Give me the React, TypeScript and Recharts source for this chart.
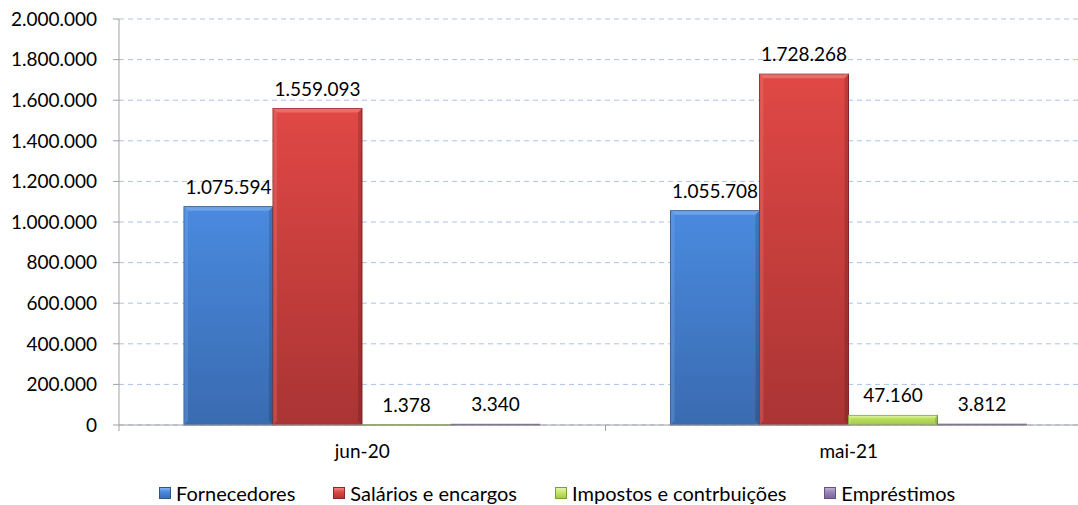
import React from 'react';
import { BarChart, Bar, XAxis, YAxis, CartesianGrid, LabelList } from 'recharts';

const categories = ['jun-20', 'mai-21'];
const fornecedores = [1075594, 1055708];
const salarios = [1559093, 1728268];
const impostos = [1378, 47160];
const emprestimos = [3340, 3812];
const yTicks = [0, 200000, 400000, 600000, 800000, 1000000, 1200000, 1400000, 1600000, 1800000, 2000000];
const seriesNames = ['Fornecedores', 'Salários e encargos', 'Impostos e contrbuições', 'Empréstimos'];

const data = categories.map((c, i) => ({
  cat: c,
  f: fornecedores[i],
  s: salarios[i],
  im: impostos[i],
  e: emprestimos[i],
}));

const FONT = 'Lato, "Open Sans", sans-serif';
const FS = 19;
const CHART_W = 1100;
const CHART_H = 505;
const MARGIN = { top: 19, right: 8, left: 0, bottom: 0 };
const Y_W = 119;
const X_H = 80;
const PLOT_W = CHART_W - MARGIN.left - MARGIN.right - Y_W;
const BAND = PLOT_W / categories.length;

const palette = [
  { id: 'gBlue', top: '#4a8adf', bottom: '#396bb0', stroke: '#2e5790', light: '#8ab8f2', key: 'f' },
  { id: 'gRed', top: '#e04845', bottom: '#aa3434', stroke: '#8c2a2a', light: '#f48c88', key: 's' },
  { id: 'gGreen', top: '#c8ea6c', bottom: '#a0c843', stroke: '#7e9e30', light: '#e6f7b0', key: 'im' },
  { id: 'gPurple', top: '#9b86ba', bottom: '#7a6498', stroke: '#67537f', light: '#c2b2d8', key: 'e' },
];

const fmt = (v: number) => String(Math.round(v)).replace(/\B(?=(\d{3})+(?!\d))/g, '.');

const makeShape = (p: typeof palette[number]) => (props: any) => {
  const { x, y, width, height } = props;
  if (width == null || height == null) return null;
  const h = Math.max(height, 0);
  const w = width;
  const s = Math.max(0, Math.min(4, h / 4, w / 4));
  return (
    <g>
      <rect x={x} y={y} width={w} height={Math.max(h, 0.5)} fill={`url(#${p.id})`} stroke={p.stroke} strokeWidth={1} />
      {s > 0.5 && (
        <>
          <polygon points={`${x},${y} ${x + w},${y} ${x + w - s},${y + s} ${x + s},${y + s}`} fill={p.light} opacity={0.55} />
          <polygon points={`${x},${y} ${x + s},${y + s} ${x + s},${y + h - s} ${x},${y + h}`} fill={p.light} opacity={0.25} />
          <polygon points={`${x + w},${y} ${x + w - s},${y + s} ${x + w - s},${y + h - s} ${x + w},${y + h}`} fill="#000" opacity={0.15} />
        </>
      )}
    </g>
  );
};

const XTick = (props: any) => {
  const { x, y, payload, index } = props;
  return (
    <g>
      {index === 0 && <line x1={x - BAND / 2} x2={x - BAND / 2} y1={y} y2={y + 6} stroke="#a0a0a0" />}
      <line x1={x + BAND / 2} x2={x + BAND / 2} y1={y} y2={y + 6} stroke="#a0a0a0" />
      <text x={x} y={y + 33} textAnchor="middle" fontFamily={FONT} fontSize={FS} fill="#000">
        {payload.value}
      </text>
    </g>
  );
};

const LegendIcon = ({ p }: { p: typeof palette[number] }) => (
  <svg width={12} height={12} style={{ marginRight: 5, flex: 'none' }}>
    <defs>
      <linearGradient id={`lg-${p.id}`} x1="0" y1="0" x2="0" y2="1">
        <stop offset="0" stopColor={p.light} />
        <stop offset="0.4" stopColor={p.top} />
        <stop offset="1" stopColor={p.bottom} />
      </linearGradient>
    </defs>
    <rect x={0.5} y={0.5} width={11} height={11} fill={`url(#lg-${p.id})`} stroke={p.stroke} />
  </svg>
);

export default function App() {
  return (
    <div style={{ position: 'absolute', left: 0, top: 0, width: 1078, height: 505, overflow: 'hidden', background: '#fff' }}>
      <BarChart width={CHART_W} height={CHART_H} data={data} margin={MARGIN} barGap={0} barSize={89}>
        <defs>
          {palette.map((p) => (
            <linearGradient key={p.id} id={p.id} x1="0" y1="0" x2="0" y2="1">
              <stop offset="0" stopColor={p.top} />
              <stop offset="1" stopColor={p.bottom} />
            </linearGradient>
          ))}
        </defs>
        <CartesianGrid vertical={false} stroke="#a9c3e9" strokeDasharray="5 4" />
        <YAxis
          width={Y_W}
          domain={[0, 2000000]}
          ticks={yTicks}
          interval={0}
          tickFormatter={fmt}
          axisLine={{ stroke: '#a0a0a0' }}
          tickLine={{ stroke: '#a0a0a0' }}
          tickSize={6}
          tickMargin={16}
          tick={{ fontFamily: FONT, fontSize: FS, fill: '#000' }}
        />
        <XAxis
          dataKey="cat"
          height={X_H}
          axisLine={{ stroke: '#a0a0a0' }}
          tickLine={false}
          tickSize={0}
          tickMargin={0}
          interval={0}
          tick={<XTick />}
        />
        {palette.map((p, i) => (
          <Bar key={p.key} dataKey={p.key} name={seriesNames[i]} isAnimationActive={false} shape={makeShape(p)}>
            <LabelList
              dataKey={p.key}
              position="top"
              offset={13}
              formatter={(v: any) => fmt(Number(v))}
              style={{ fontFamily: FONT, fontSize: FS, fill: '#000' }}
            />
          </Bar>
        ))}
      </BarChart>
      <div
        style={{
          position: 'absolute',
          left: 159,
          top: 481,
          display: 'flex',
          alignItems: 'center',
          gap: 38,
          fontFamily: FONT,
          fontSize: 20,
          color: '#000',
          whiteSpace: 'nowrap',
          lineHeight: '24px',
        }}
      >
        {palette.map((p, i) => (
          <div key={p.id} style={{ display: 'flex', alignItems: 'center' }}>
            <LegendIcon p={p} />
            <span>{seriesNames[i]}</span>
          </div>
        ))}
      </div>
    </div>
  );
}
